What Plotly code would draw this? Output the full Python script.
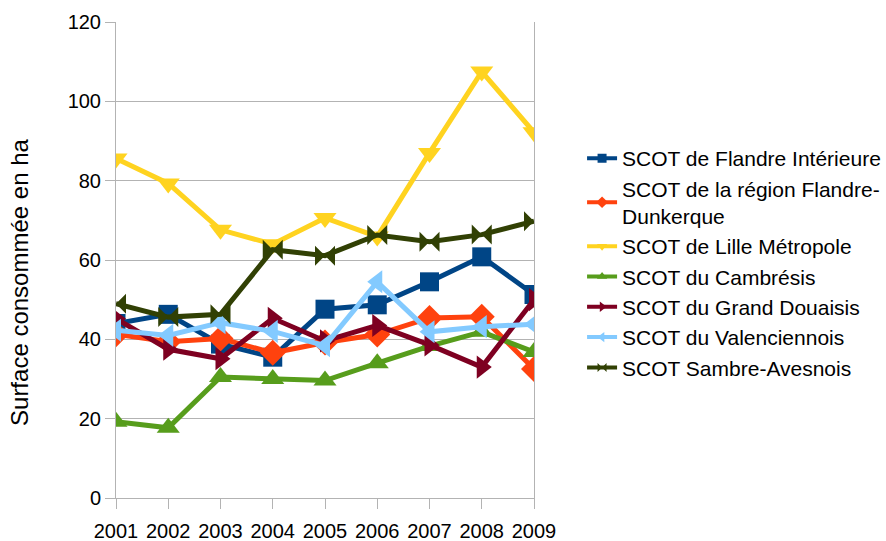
import plotly.graph_objects as go

years = [2001, 2002, 2003, 2004, 2005, 2006, 2007, 2008, 2009]

flandre_interieure = [44.0, 46.3, 38.8, 35.5, 47.6, 48.7, 54.5, 60.8, 51.3]
flandre_dunkerque = [41.3, 39.4, 40.2, 36.6, 39.2, 41.2, 45.4, 45.7, 32.5]
lille_metropole = [85.6, 79.3, 67.6, 64.0, 70.6, 65.9, 87.0, 107.5, 92.2]
cambresis = [19.2, 17.7, 30.5, 30.0, 29.6, 34.0, 38.3, 41.9, 36.8]
grand_douaisis = [45.2, 37.5, 35.1, 45.3, 39.6, 43.5, 38.6, 33.0, 50.0]
valenciennois = [42.3, 41.0, 44.2, 42.0, 38.4, 54.5, 41.9, 43.2, 43.8]
sambre_avesnois = [49.0, 45.6, 46.3, 62.6, 61.1, 66.3, 64.6, 66.4, 69.8]

series = [
    ("SCOT de Flandre Intérieure", flandre_interieure, "#004586", "square", 19),
    ("SCOT de la région Flandre-<br>Dunkerque", flandre_dunkerque, "#ff420e", "diamond", 20),
    ("SCOT de Lille Métropole", lille_metropole, "#ffd320", "triangle-down", 20),
    ("SCOT du Cambrésis", cambresis, "#579d1c", "triangle-up", 20),
    ("SCOT du Grand Douaisis", grand_douaisis, "#7e0021", "triangle-right", 20),
    ("SCOT du Valenciennois", valenciennois, "#83caff", "triangle-left", 20),
    ("SCOT Sambre-Avesnois", sambre_avesnois, "#314004", "bowtie", 20),
]

fig = go.Figure()
for name, vals, color, sym, size in series:
    fig.add_trace(go.Scatter(
        x=years, y=vals, name=name, mode="lines+markers",
        line=dict(color=color, width=5),
        marker=dict(symbol=sym, size=size, color=color, line=dict(width=0)),
        showlegend=False, legendgroup=name,
    ))
# legend entries with small symbols, as in the reference
for name, vals, color, sym, size in series:
    fig.add_trace(go.Scatter(
        x=[None], y=[None], name=name, mode="lines+markers",
        line=dict(color=color, width=4),
        marker=dict(symbol=sym, size=9, color=color, line=dict(width=0)),
        showlegend=True, legendgroup=name,
    ))

font = "Liberation Sans, Arial, sans-serif"
fig.update_layout(
    width=886, height=541,
    margin=dict(l=116, r=352, t=22, b=43, autoexpand=False),
    plot_bgcolor="white", paper_bgcolor="white",
    font=dict(family=font, size=20, color="black"),
    showlegend=True,
    legend=dict(
        x=1.115, y=0.756, xanchor="left", yanchor="top",
        font=dict(size=21, family=font, color="black"), itemwidth=30,
        tracegroupgap=0, bgcolor="rgba(0,0,0,0)",
    ),
    xaxis=dict(
        range=[2001, 2009], tickvals=years, ticktext=[str(y) for y in years],
        showgrid=False, zeroline=False, automargin=False,
        showline=True, linecolor="#b3b3b3", linewidth=1,
        ticks="outside", ticklen=10, tickcolor="#b3b3b3",
        tickfont=dict(size=20), ticklabelstandoff=5,
    ),
    yaxis=dict(
        range=[0, 120], tickvals=[0, 20, 40, 60, 80, 100, 120],
        showgrid=True, gridcolor="#b3b3b3", gridwidth=1, zeroline=False,
        automargin=False,
        showline=True, linecolor="#b3b3b3", linewidth=1, mirror=True,
        ticks="outside", ticklen=10, tickcolor="#b3b3b3",
        tickfont=dict(size=20),
    ),
    annotations=[dict(
        text="Surface consommée en ha", textangle=-90,
        xref="paper", yref="paper", x=-0.2297, y=0.4538,
        xanchor="center", yanchor="middle", showarrow=False,
        font=dict(size=24, family=font, color="black"),
    )],
)

fig.write_html("out.html")
